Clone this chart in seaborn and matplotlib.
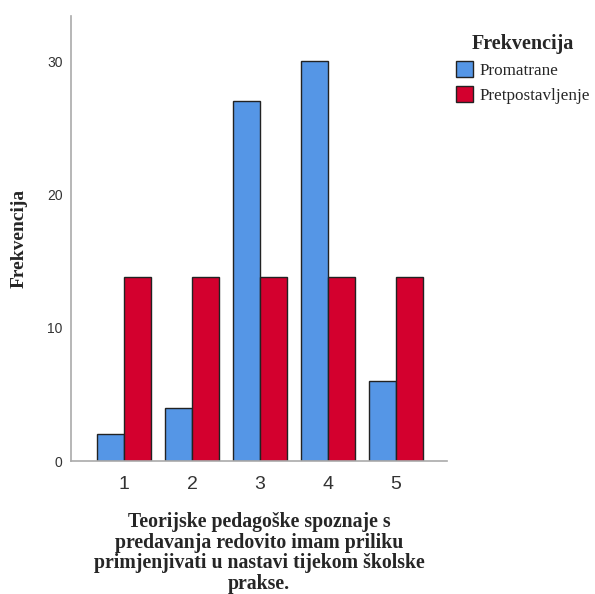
import matplotlib
matplotlib.use("Agg")
import matplotlib.pyplot as plt
import seaborn as sns
import pandas as pd
from matplotlib.patches import Patch

categories = ["1", "2", "3", "4", "5"]
promatrane = [2, 4, 27, 30, 6]
pretpostavljenje = [13.8, 13.8, 13.8, 13.8, 13.8]
series_names = ["Promatrane", "Pretpostavljenje"]
colors = ["#5596E6", "#D3002E"]

df = pd.DataFrame({
    "cat": categories * 2,
    "val": promatrane + pretpostavljenje,
    "serie": [series_names[0]] * 5 + [series_names[1]] * 5,
})

sns.set_style("white")
fig = plt.figure(figsize=(5.95, 5.94), dpi=100)
ax = fig.add_axes([0.1193, 0.2239, 0.632, 0.7492])
sns.barplot(data=df, x="cat", y="val", hue="serie", palette=colors,
            saturation=1, edgecolor="#222222", linewidth=1.0, ax=ax,
            width=0.8, legend=False)

ax.set_xlim(-0.78, 4.75)
ax.set_ylim(0, 33.4)
ax.set_yticks([0, 10, 20, 30])
for s in ["top", "right"]:
    ax.spines[s].set_visible(False)
for s in ["left", "bottom"]:
    ax.spines[s].set_color("#AAAAAA")
    ax.spines[s].set_linewidth(1.2)
ax.tick_params(axis="y", length=0, labelsize=10, labelcolor="#333333", pad=6)
ax.tick_params(axis="x", length=0, labelsize=14, labelcolor="#333333", pad=10.5)
for t in ax.get_yticklabels() + ax.get_xticklabels():
    t.set_fontfamily("Liberation Sans")

ax.set_ylabel("Frekvencija", fontfamily="Liberation Serif", fontweight="bold",
              fontsize=14, labelpad=14)
ax.set_xlabel("Teorijske pedagoške spoznaje s\npredavanja redovito imam priliku\n"
              "primjenjivati u nastavi tijekom školske\nprakse.",
              fontfamily="Liberation Serif", fontweight="bold", fontsize=14.2,
              labelpad=14, linespacing=1.04)

handles = [Patch(facecolor=c, edgecolor="#222222", linewidth=1.0) for c in colors]
leg = fig.legend(handles, series_names, title="Frekvencija", loc="upper left",
                 bbox_to_anchor=(0.755, 0.955), frameon=False,
                 prop={"family": "Liberation Serif", "size": 12.3},
                 handlelength=1.0, handleheight=1.0, handletextpad=0.4,
                 labelspacing=0.45, borderaxespad=0)
leg.get_title().set_fontfamily("Liberation Serif")
leg.get_title().set_fontweight("bold")
leg.get_title().set_fontsize(14.5)

fig.savefig("out.png", dpi=100)
